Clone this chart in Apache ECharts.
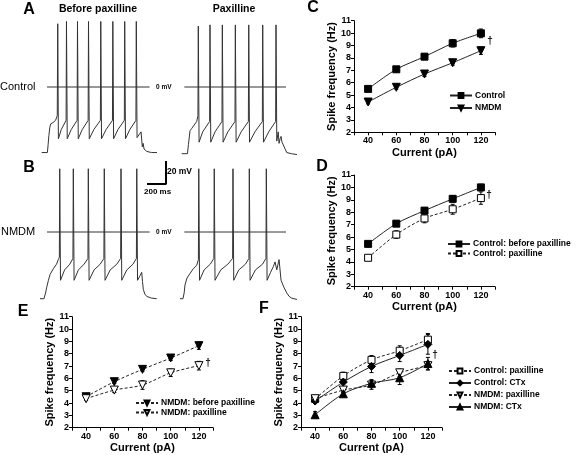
<!DOCTYPE html>
<html><head><meta charset="utf-8">
<script src="https://cdn.jsdelivr.net/npm/echarts@6/dist/echarts.min.js"></script>
<style>html,body{margin:0;padding:0;background:#fff}#c{width:576px;height:455px}</style>
</head><body><div id="c"></div>
<script>
// ---------- Data: membrane potential traces, [time (ms), Vm (mV)] ----------
const traceControlBefore = [[-56,-57],[4,-57],[12,-50],[20,-42],[30,-35],[40,-32],[62,-31],[90,-29],[108,-25],[113,55],
 [120,-45],[150,-37],[201,-29],[205,57],
 [213,-45],[255,-37],[317,-29],[321,57],
 [329,-45],[371,-37],[433,-29],[437,57],
 [445,-45],[493,-37],[562,-29],[566,57],
 [574,-45],[622,-37],[689,-29],[693,57],
 [701,-45],[747,-37],[814,-29],[818,57],
 [826,-45],[872,-37],[936,-29],[940,57],
 [948,-44],[990,-39],[1003,-52],[1012,-49],[1022,-54],[1050,-56],[1100,-57],[1170,-57]];
const traceControlPax = [[-56,-58],[5,-58],[15,-50],[32,-38],[50,-36],[66,-35],[102,-30],[115,-25],[119,53],
 [127,-48],[165,-39],[238,-30],[242,54],
 [250,-48],[295,-39],[368,-30],[372,54],
 [380,-48],[430,-39],[505,-30],[509,54],
 [517,-48],[570,-39],[646,-30],[650,54],
 [658,-48],[715,-39],[793,-30],[797,54],
 [805,-48],[860,-39],[933,-30],[937,54],
 [945,-47],[960,-39],[969,-49],[980,-45],[990,-43],[1000,-48],[1050,-57],[1100,-58],[1172,-59]];
const traceNmdmBefore = [[-74,-58],[-32,-58],[-15,-53],[-3,-48],[15,-42],[32,-37],[66,-32],[100,-28],[119,-24],[130,-22],[134,55],
 [142,-42],[185,-33],[240,-28],[273,-23],[277,55],
 [285,-42],[330,-33],[390,-28],[431,-23],[435,55],
 [443,-42],[495,-33],[560,-28],[599,-23],[603,55],
 [611,-42],[665,-33],[735,-28],[775,-23],[779,55],
 [787,-42],[840,-33],[905,-28],[941,-23],[945,55],
 [953,-42],[979,-38],[997,-35],[1005,-43],[1014,-50],[1030,-54],[1050,-56],[1100,-57.5],[1155,-58]];
const traceNmdmPax = [[-74,-58],[-42,-58],[-30,-53],[-21,-46],[0,-40],[32,-36],[66,-32],[102,-29],[120,-24],[124,55],
 [132,-42],[180,-33],[245,-28],[283,-23],[287,55],
 [295,-42],[355,-33],[430,-28],[480,-23],[484,55],
 [492,-42],[545,-33],[615,-28],[652,-23],[656,55],
 [664,-42],[720,-33],[795,-28],[831,-23],[835,55],
 [843,-42],[880,-35],[909,-30],[927,-26],[945,-33],[969,-24],[990,-42],[1020,-48],[1050,-53],[1075,-56],[1102,-57.5],[1172,-59]];
const zeroLineLeft = [[0,0],[1080,0]];
const zeroLineRight = [[-28,0],[1042,0]];
const scaleBar = [[0,0],[200,0],[200,20]]; // 200 ms, 20 mV

// ---------- Data: spike frequency (Hz) vs current (pA) ----------
const currents = [40,60,80,100,120];
const cControl = [5.5,7.08,8.1,9.18,9.98];
const cControlErr = [0.15,0.2,0.2,0.3,0.35];
const cNmdm = [4.44,5.63,6.7,7.61,8.58];
const cNmdmErr = [0.15,0.15,0.2,0.2,0.3];
const dControlBefore = [5.45,7.08,8.13,9.08,10.0];
const dControlBeforeErr = [0.1,0.2,0.2,0.25,0.25];
const controlPax = [4.33,6.2,7.5,8.24,9.14];
const controlPaxErr = [0.2,0.3,0.35,0.4,0.5];
const eNmdmBefore = [4.51,5.73,6.73,7.65,8.65];
const eNmdmBeforeErr = [0.1,0.15,0.15,0.2,0.3];
const nmdmPax = [4.35,5.05,5.46,6.45,7.03];
const nmdmPaxErr = [0.15,0.2,0.35,0.3,0.35];
const fControlCtx = [4.16,5.7,6.97,7.86,8.76];
const fControlCtxErr = [0.15,0.4,0.5,0.5,0.8];
const fNmdmCtx = [3.05,4.75,5.6,6.05,7.2];
const fNmdmCtxErr = [0.25,0.2,0.3,0.55,0.5];

// ---------- Build ----------
const FF = "'Liberation Sans', Arial, sans-serif";
const chart = echarts.init(document.getElementById('c'), null, {renderer:'canvas'});

const grids = [
 {left:37.5, top:18, width:118.75, height:149.5},
 {left:177.5, top:18, width:118.75, height:149.5},
 {left:37.5, top:163, width:118.75, height:149.5},
 {left:177.5, top:163, width:118.75, height:149.5},
 {left:147, top:161, width:19, height:23},
 {left:354, top:20.7, width:141, height:111.6},
 {left:354, top:175, width:141, height:111.7},
 {left:72, top:316.7, width:141, height:111},
 {left:301, top:316.7, width:141, height:111}
];
const xAxes = [], yAxes = [];
for (let i=0;i<4;i++){
  xAxes.push({gridIndex:i,type:'value',min:-100,max:1150,show:false});
  yAxes.push({gridIndex:i,type:'value',min:-70,max:60,show:false});
}
xAxes.push({gridIndex:4,type:'value',min:0,max:200,show:false});
yAxes.push({gridIndex:4,type:'value',min:0,max:20,show:false});
for (let g=5; g<9; g++){
  xAxes.push({gridIndex:g,type:'value',min:30,max:130,interval:10,
    axisLine:{show:true,onZero:false,lineStyle:{color:'#000',width:1}},
    axisTick:{show:true,length:3,lineStyle:{color:'#000'}},
    axisLabel:{formatter:v=>(v%20===0&&v>=40&&v<=120)?String(v):'',fontSize:9,fontWeight:'bold',color:'#000',margin:4,fontFamily:FF},
    splitLine:{show:false},
    name:'Current (pA)',nameLocation:'middle',nameGap:15,
    nameTextStyle:{fontSize:11,fontWeight:'bold',color:'#000',fontFamily:FF}});
  yAxes.push({gridIndex:g,type:'value',min:2,max:11,interval:1,
    axisLine:{show:true,onZero:false,lineStyle:{color:'#000',width:1}},
    axisTick:{show:true,length:3,lineStyle:{color:'#000'}},
    axisLabel:{fontSize:9,fontWeight:'bold',color:'#000',margin:3,fontFamily:FF},
    splitLine:{show:false},
    name:'Spike frequency (Hz)',nameLocation:'middle',nameGap:16,
    nameTextStyle:{fontSize:11,fontWeight:'bold',color:'#000',fontFamily:FF}});
}

const series = [];
function trace(gi, data){
  series.push({type:'line',xAxisIndex:gi,yAxisIndex:gi,data:data,symbol:'none',silent:true,
    lineStyle:{color:'#333',width:1},animation:false});
}
trace(0, traceControlBefore); trace(0, zeroLineLeft);
trace(1, traceControlPax);    trace(1, zeroLineRight);
trace(2, traceNmdmBefore);    trace(2, zeroLineLeft);
trace(3, traceNmdmPax);       trace(3, zeroLineRight);
series.push({type:'line',xAxisIndex:4,yAxisIndex:4,data:scaleBar,symbol:'none',clip:false,silent:true,
  lineStyle:{color:'#000',width:2},animation:false});

function errBars(gi, ys, errs){
  series.push({type:'custom',xAxisIndex:gi,yAxisIndex:gi,silent:true,z:1,animation:false,
    data:currents.map((c,i)=>[c,ys[i],errs[i]]),
    renderItem:(params,api)=>{
      const x=api.value(0), y=api.value(1), e=api.value(2);
      const a=api.coord([x,y+e]), b=api.coord([x,y-e]);
      const st={stroke:'#000',lineWidth:1};
      return {type:'group',children:[
        {type:'line',shape:{x1:a[0],y1:a[1],x2:b[0],y2:b[1]},style:st},
        {type:'line',shape:{x1:a[0]-2,y1:a[1],x2:a[0]+2,y2:a[1]},style:st},
        {type:'line',shape:{x1:b[0]-2,y1:b[1],x2:b[0]+2,y2:b[1]},style:st}]};
    }});
}
function curve(gi, name, ys, errs, opt){
  errBars(gi, ys, errs);
  series.push({type:'line',name:name,xAxisIndex:gi,yAxisIndex:gi,
    data:currents.map((c,i)=>[c,ys[i]]),smooth:0.3,animation:false,z:3,
    symbol:opt.symbol,symbolSize:opt.size,symbolRotate:opt.rotate||0,
    lineStyle:{color:'#222',width:1,type:opt.dashed?[3,2]:'solid'},
    itemStyle:{color:opt.open?'#fff':'#000',borderColor:'#000',borderWidth:1}});
}
curve(5,'Control',cControl,cControlErr,{symbol:'rect',size:7});
curve(5,'NMDM',cNmdm,cNmdmErr,{symbol:'triangle',size:8,rotate:180});
curve(6,'Control: before paxilline',dControlBefore,dControlBeforeErr,{symbol:'rect',size:7});
curve(6,'Control: paxilline',controlPax,controlPaxErr,{symbol:'rect',size:7,open:true,dashed:true});
curve(7,'NMDM: before paxilline',eNmdmBefore,eNmdmBeforeErr,{symbol:'triangle',size:8,rotate:180,dashed:true});
curve(7,'NMDM: paxilline',nmdmPax,nmdmPaxErr,{symbol:'triangle',size:8,rotate:180,open:true,dashed:true});
curve(8,'Control: paxilline',controlPax,controlPaxErr,{symbol:'rect',size:7,open:true,dashed:true});
curve(8,'Control: CTx',fControlCtx,fControlCtxErr,{symbol:'diamond',size:8});
curve(8,'NMDM: paxilline',nmdmPax,nmdmPaxErr,{symbol:'triangle',size:8,rotate:180,open:true,dashed:true});
curve(8,'NMDM: CTx',fNmdmCtx,fNmdmCtxErr,{symbol:'triangle',size:8});

function leg(names,left,top,gap){
  return {data:names,left:left,top:top,orient:'vertical',itemWidth:22,itemHeight:6,itemGap:gap,padding:0,
    selectedMode:false,textStyle:{fontSize:8.5,fontWeight:'bold',color:'#000',fontFamily:FF,padding:[0,0,0,-2]}};
}
const legends = [
  leg(['Control','NMDM'],449,91,3.5),
  leg(['Control: before paxilline','Control: paxilline'],447,239.5,0.5),
  leg(['NMDM: before paxilline','NMDM: paxilline'],135,398.5,0.5),
  leg(['Control: paxilline','Control: CTx','NMDM: paxilline','NMDM: CTx'],448,366.5,3)
];

function txt(s,x,y,font,align){
  return {type:'text',x:x,y:y,silent:true,style:{text:s,font:font+' '+FF,fill:'#000',align:align||'center',verticalAlign:'middle'}};
}
const graphic = [
  txt('A',29,10,'bold 16px'), txt('B',29,168,'bold 16px'),
  txt('C',313,8,'bold 16px'), txt('D',322,167,'bold 16px'),
  txt('E',23,312,'bold 16px'), txt('F',264,309,'bold 16px'),
  txt('Before paxilline',98,9,'bold 10.5px'), txt('Paxilline',234,9,'bold 10.5px'),
  txt('Control',0,87,'11px','left'), txt('NMDM',1,232,'11px','left'),
  txt('0 mV',156,87,'bold 6.5px','left'), txt('0 mV',156,232,'bold 6.5px','left'),
  txt('20 mV',167,172,'bold 8.5px','left'), txt('200 ms',144,192,'bold 8px','left'),
  txt('\u2020',490,41,'bold 10px'), txt('\u2020',489,195,'bold 10px'),
  txt('\u2020',208,363,'bold 10px'), txt('\u2020',435,355,'bold 10px')
];

chart.setOption({animation:false,backgroundColor:'#fff',textStyle:{fontFamily:FF},
  grid:grids,xAxis:xAxes,yAxis:yAxes,series:series,legend:legends,graphic:graphic});
</script></body></html>
